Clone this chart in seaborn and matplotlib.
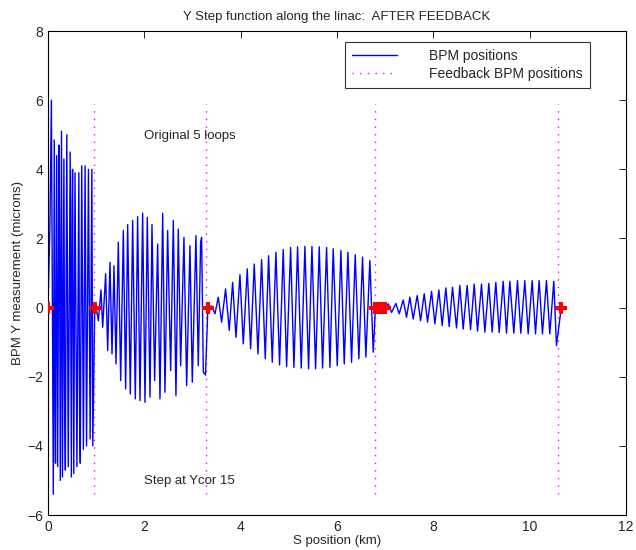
import numpy as np
import pandas as pd
import seaborn as sns
from matplotlib import pyplot as plt
from matplotlib.lines import Line2D

# BPM readings, one list per feedback section (km, microns)
s1_x = [0.00, 0.04, 0.07, 0.11, 0.13, 0.145, 0.155, 0.18, 0.20, 0.23, 0.24, 0.255, 0.28, 0.30, 0.33, 0.345,
        0.36, 0.39, 0.42, 0.46, 0.485, 0.50, 0.51, 0.535, 0.56, 0.60, 0.64, 0.655, 0.67, 0.70, 0.735, 0.77,
        0.80, 0.84, 0.875, 0.91, 0.93, 0.97]
s1_y = [0.0, 2.4, 6.0, -5.4, 4.85, -2.9, -4.5, 4.4, -4.6, 4.7, 2.2, -5.0, 5.1, -4.9, 4.3, -2.7,
        -4.7, 5.0, -4.6, 4.5, -4.9, 3.0, 4.0, -4.8, 3.9, -4.6, 3.9, -3.0, -4.5, 4.1, -4.1, 4.1,
        -4.0, 4.0, -3.8, 4.0, -4.0, 0.0]

s2_x = [1.00, 1.045, 1.10, 1.135, 1.197, 1.239, 1.287, 1.329, 1.370, 1.412, 1.460, 1.509, 1.564, 1.612,
        1.654, 1.709, 1.758, 1.813, 1.861, 1.910, 1.965, 2.014, 2.062, 2.118, 2.159, 2.214, 2.277, 2.325,
        2.381, 2.429, 2.484, 2.547, 2.602, 2.657, 2.706, 2.754, 2.823, 2.879, 2.948, 2.996, 3.072, 3.121,
        3.169, 3.190, 3.225, 3.270, 3.32]
s2_y = [0.0, -0.38, 0.51, -0.57, 0.98, -1.24, 1.31, -1.34, 1.21, -1.63, 1.89, -2.11, 2.23, -2.35,
        2.40, -2.50, 2.52, -2.64, 2.63, -2.69, 2.73, -2.74, 2.61, -2.59, 2.40, -2.11, 1.84, -2.64,
        2.73, -2.45, 2.23, -1.82, 2.52, -2.55, 2.27, -1.68, 2.03, -2.26, 1.79, -2.16, 2.08, -1.68,
        1.89, 2.03, -1.87, -1.95, 0.0]

s3_x = [3.33, 3.398, 3.467, 3.536, 3.605, 3.688, 3.764, 3.834, 3.903, 3.986, 4.055, 4.138, 4.207, 4.283,
        4.360, 4.436, 4.512, 4.581, 4.657, 4.733, 4.809, 4.885, 4.955, 5.038, 5.107, 5.183, 5.259, 5.335,
        5.411, 5.481, 5.557, 5.633, 5.702, 5.785, 5.855, 5.923, 6.007, 6.083, 6.152, 6.228, 6.304, 6.380,
        6.456, 6.532, 6.601, 6.684, 6.754, 6.80]
s3_y = [0.0, 0.05, -0.18, 0.30, -0.42, 0.54, -0.66, 0.73, -0.86, 0.95, -1.05, 1.12, -1.19, 1.26,
        -1.34, 1.39, -1.48, 1.50, -1.58, 1.60, -1.66, 1.68, -1.71, 1.74, -1.73, 1.76, -1.75, 1.77,
        -1.77, 1.77, -1.77, 1.76, -1.75, 1.74, -1.73, 1.70, -1.68, 1.65, -1.63, 1.60, -1.58, 1.53,
        -1.48, 1.46, -1.43, 1.36, -1.29, 0.0]

s4_x = [6.85, 6.90, 6.95, 7.00, 7.066, 7.135, 7.224, 7.294, 7.377, 7.446, 7.515, 7.584, 7.667, 7.737,
        7.813, 7.882, 7.965, 8.034, 8.117, 8.186, 8.263, 8.332, 8.401, 8.484, 8.553, 8.622, 8.705, 8.775,
        8.851, 8.920, 9.003, 9.072, 9.155, 9.224, 9.300, 9.370, 9.453, 9.522, 9.591, 9.674, 9.750, 9.819,
        9.902, 9.972, 10.055, 10.124, 10.200, 10.269, 10.352, 10.421, 10.504, 10.559, 10.66]
s4_y = [0.05, -0.05, 0.03, 0.0, 0.11, -0.14, 0.12, -0.18, 0.22, -0.28, 0.30, -0.33, 0.35, -0.38,
        0.40, -0.42, 0.47, -0.47, 0.51, -0.52, 0.57, -0.55, 0.59, -0.59, 0.64, -0.62, 0.64, -0.64,
        0.68, -0.68, 0.68, -0.71, 0.70, -0.71, 0.73, -0.72, 0.76, -0.74, 0.76, -0.74, 0.78, -0.74,
        0.78, -0.76, 0.78, -0.76, 0.78, -0.76, 0.78, -0.76, 0.76, -1.1, 0.0]

# feedback BPM locations
fb_lines = [0.0, 0.955, 3.28, 6.79, 10.59]
fb_marks = [0.0, 0.98, 3.33, 6.80, 6.85, 6.90, 6.95, 7.0, 10.66]

bpm = pd.DataFrame({'s': s1_x + s2_x + s3_x + s4_x, 'y': s1_y + s2_y + s3_y + s4_y})
marks = pd.DataFrame({'s': fb_marks, 'y': [0.0] * len(fb_marks)})

sns.set_style('white')
plt.rcParams['font.family'] = ['Liberation Sans', 'DejaVu Sans']
plt.rcParams['xtick.direction'] = 'in'
plt.rcParams['ytick.direction'] = 'in'

fig = plt.figure(figsize=(6.36, 5.5), dpi=100)
ax = fig.add_axes([0.0755, 0.0636, 0.9085, 0.88])

# dotted feedback lines
ax.vlines(fb_lines, -5.4, 5.9, colors='#ff00ff', linestyles=(0, (1, 4.5)), linewidth=1.0)

sns.lineplot(data=bpm, x='s', y='y', sort=False, estimator=None, color='#0000ff', linewidth=1.0, ax=ax)
sns.scatterplot(data=marks, x='s', y='y', marker='P', s=70, color='#ff0000', linewidth=0, ax=ax, zorder=5)

ax.set_xlim(0, 12)
ax.set_ylim(-6, 8)
ax.set_xticks(range(0, 13, 2))
ax.set_yticks(range(-6, 9, 2))
ax.tick_params(axis='both', labelsize=10, length=5, width=0.6, top=True, right=True, color='black')
for sp in ax.spines.values():
    sp.set_color('black')
    sp.set_linewidth(0.8)

ax.set_title('Y Step function along the linac:  AFTER FEEDBACK', fontsize=9.5, pad=8)
ax.set_xlabel('S position (km)', fontsize=9.5, labelpad=1)
ax.set_ylabel('BPM Y measurement (microns)', fontsize=9.5, labelpad=2)

ax.text(1.99, 4.97, 'Original 5 loops', fontsize=9.5, va='center')
ax.text(1.99, -5.03, 'Step at Ycor 15', fontsize=9.5, va='center')

handles = [Line2D([], [], color='#0000ff', lw=1.0),
           Line2D([], [], color='#ff00ff', lw=1.0, ls=(0, (1, 4.5)))]
leg = ax.legend(handles, ['BPM positions', 'Feedback BPM positions'], loc='upper right',
                bbox_to_anchor=(0.938, 0.977), fontsize=10, frameon=True, fancybox=False,
                handlelength=3.3, handletextpad=2.3, borderpad=0.5, labelspacing=0.3,
                borderaxespad=0)
leg.get_frame().set_edgecolor('black')
leg.get_frame().set_linewidth(0.8)

fig.savefig('out.png', dpi=100)
